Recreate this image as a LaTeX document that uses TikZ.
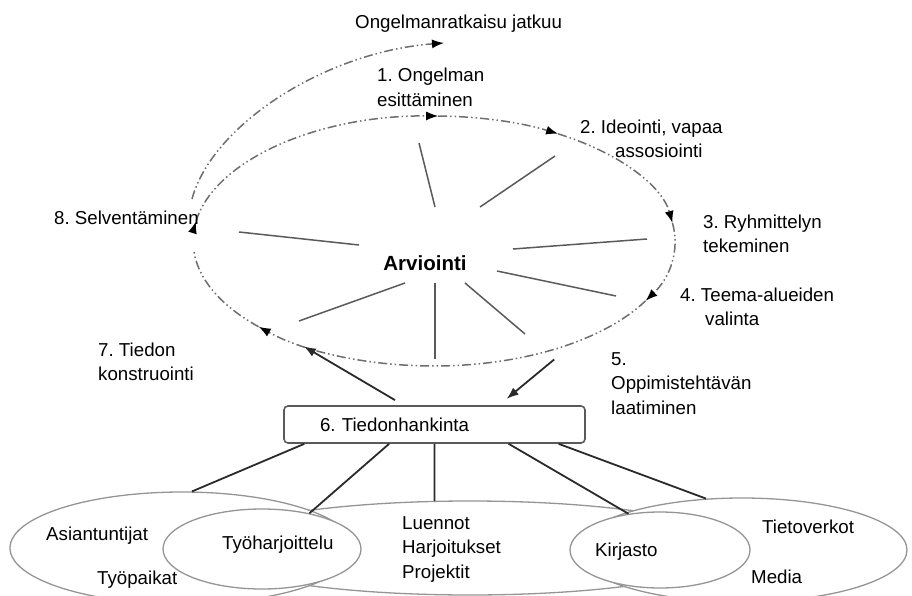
\documentclass[tikz,border=0pt]{standalone}
\usepackage{fontspec}
\setmainfont{Liberation Sans}
\usetikzlibrary{arrows.meta,calc,shapes.geometric}
\definecolor{ringGrey}{HTML}{6e6e6e}
\definecolor{spokeGrey}{HTML}{5a5a5a}
\definecolor{linkDark}{HTML}{2a2a2a}
\definecolor{areaGrey}{HTML}{959595}
\newcommand{\lblfont}{\frenchspacing\fontsize{18.7}{24.5}\selectfont}
\tikzset{
  ring/.style={draw=ringGrey, line width=1.5pt,
               dash pattern=on 9pt off 3pt on 1.5pt off 3pt on 1.5pt off 3pt},
  ringtip/.style={ring, -{Latex[length=12pt,width=9pt,black]}},
  spoke/.style={draw=spokeGrey, line width=1.5pt},
  link/.style={draw=linkDark, line width=1.8pt},
  flow/.style={link, -{Latex[length=12pt,width=9pt]}},
  area/.style={ellipse, draw=areaGrey, line width=1.3pt, fill=white, inner sep=0pt},
  infobox/.style={rectangle, rounded corners=4pt, draw=spokeGrey, line width=1.6pt,
                  fill=white, align=left, font=\lblfont},
  lbl/.style={anchor=base west, align=left, inner sep=0pt, font=\lblfont},
}

\begin{document}
\begin{tikzpicture}[x=1pt, y=-1pt]
  \useasboundingbox (0,0) rectangle (912,596);
  \clip (0,0) rectangle (912,596);

  % evaluation ring
  \node[ellipse, minimum width=482pt, minimum height=250pt, inner sep=0pt] (kehae) at (434,241) {};
  \foreach \a/\b/\s in {183.7/189/ringtip, 189/271/ringtip, 271/301/ringtip, 301/351.7/ringtip,
                        351.7/388.6/ringtip, 28.6/136.7/ringtip, 136.7/176/ring}
    \draw[\s] (kehae.center) ++(\a:241 and 125) arc[start angle=\a, end angle=\b, x radius=241, y radius=125];
  \coordinate (loopstart) at (192,199);
  \coordinate (loopend) at (444,43);
  \draw[ringtip] (loopstart) .. controls (212,125) and (325,52) .. (loopend);

  % spokes
  \foreach \ax/\ay/\bx/\by in {419/143/435/207, 555/156/480/207, 239/232/359/245, 513/249/647/239,
                               497/271/616/296, 405/283/299/321, 435/283/435/359, 465/283/525/334}
    \draw[spoke] (\ax,\ay) -- (\bx,\by);
  \node[anchor=base, inner sep=0pt, font=\fontsize{20.5}{24}\selectfont\bfseries] (arvio) at (425,270) {Arviointi};

  % information sources
  \node[area, minimum width=536pt, minimum height=94pt] (luen) at (470,548) {};
  \node[area, minimum width=344pt, minimum height=112pt] (asian) at (182,548) {};
  \node[area, minimum width=330pt, minimum height=104pt] (tieto) at (742,550) {};
  \node[area, minimum width=198pt, minimum height=80pt] (tyoh) at (262,549) {};
  \node[area, minimum width=180pt, minimum height=76pt] (kirj) at (660,550) {};

  \node[infobox, text width=229pt, inner xsep=36pt, minimum height=37pt] (tiedon) at (434.5,424.5) {6. Tiedonhankinta};
  \foreach \f/\t in {.07/asian.80, .35/tyoh.37, .5/luen.127, .745/kirj.131, .91/tieto.125}
    \draw[link] ($(tiedon.south west)!\f!(tiedon.south east)$) -- (\t);
  \draw[flow, shorten <=10pt] ($(tiedon.north west)!.398!(tiedon.north east)$) -- (kehae.219);
  \draw[flow, shorten <=26pt, shorten >=10pt] (kehae.-36) -- ($(tiedon.north west)!.713!(tiedon.north east)$);

  % labels (base = last line)
  \node[lbl] (jatkuu) at (355,29) {Ongelmanratkaisu jatkuu};
  \node[lbl] (vaihe1) at (377,106.5) {1. Ongelman\\esittäminen};
  \node[lbl] (vaihe2) at (580,157.5) {2. Ideointi, vapaa\\\hspace*{35pt}assosiointi};
  \node[lbl] (vaihe3) at (703,252.5) {3. Ryhmittelyn\\tekeminen};
  \node[lbl] (vaihe4) at (680,325.5) {4. Teema-alueiden\\\hspace*{25pt}valinta};
  \node[lbl] (vaihe5) at (611,414) {5.\\Oppimistehtävän\\laatiminen};
  \node[lbl] (vaihe7) at (98,380.5) {7. Tiedon\\konstruointi};
  \node[lbl] (vaihe8) at (54,224) {8. Selventäminen};

  \node[lbl] (asiantuntijat) at (46,540) {Asiantuntijat};
  \node[lbl] (tyopaikat) at (97,584) {Työpaikat};
  \node[lbl] (tyoharj) at (222,549) {Työharjoittelu};
  \node[lbl] (luennot) at (402,578) {Luennot\\Harjoitukset\\Projektit};
  \node[lbl] (kirjasto) at (595,556) {Kirjasto};
  \node[lbl] (tietoverkot) at (762,533) {Tietoverkot};
  \node[lbl] (media) at (751,583) {Media};
\end{tikzpicture}
\end{document}
